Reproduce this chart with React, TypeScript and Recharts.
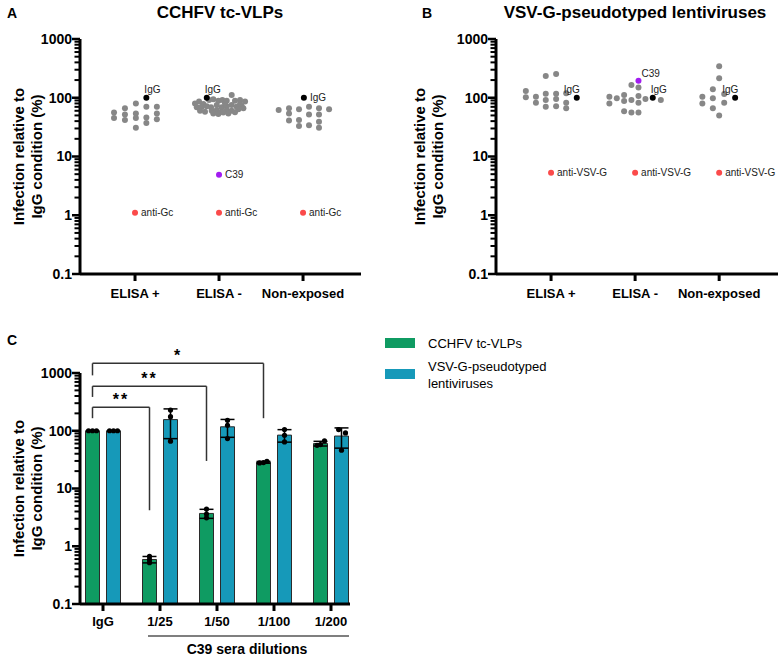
import React from "react";
import {
  ScatterChart,
  Scatter,
  ComposedChart,
  Bar,
  ErrorBar,
  XAxis,
  YAxis,
  ReferenceLine,
  ReferenceDot,
} from "recharts";

const FONT = '"Liberation Sans", Arial, Helvetica, sans-serif';

// ---------- panels A / B ----------
const serumGroups = ["ELISA +", "ELISA -", "Non-exposed"];

// [offset inside the group, infection % of IgG]
const vlpElisaPos = [
  [-0.25, 56], [-0.25, 45],
  [-0.12, 66], [-0.12, 52], [-0.12, 42],
  [0.01, 80], [0.01, 54], [0.01, 45], [0.01, 31],
  [0.135, 70], [0.135, 46], [0.135, 37],
  [0.26, 70], [0.26, 54], [0.26, 43],
];
const vlpElisaNeg = [
  [-0.286, 80], [-0.238, 86], [-0.187, 78], [-0.119, 92], [-0.068, 94], [-0.008, 89],
  [0.04, 92], [0.092, 89], [0.151, 111], [0.19, 89], [0.25, 92], [0.31, 86],
  [-0.265, 69], [-0.206, 70], [-0.146, 72], [-0.095, 69], [-0.027, 75], [0.032, 69],
  [0.092, 72], [0.151, 75], [0.21, 70], [0.27, 72],
  [-0.226, 60], [-0.167, 58], [-0.087, 60], [-0.027, 62], [0.032, 58], [0.092, 62],
  [0.151, 60], [0.23, 64], [0.29, 66],
  [-0.068, 54], [-0.008, 53], [0.051, 56], [0.111, 54], [0.19, 56.5], [0.071, 80], [0.25, 78],
];
const vlpNonExposed = [
  [-0.29, 62],
  [-0.167, 66], [-0.167, 54], [-0.167, 41],
  [-0.048, 64], [-0.048, 42], [-0.048, 33],
  [0.071, 70], [0.071, 52], [0.071, 34],
  [0.19, 66], [0.19, 52], [0.19, 39], [0.19, 31],
  [0.31, 64],
];
// [group, offset, value]
const vlpIgG = [[0, 0.135, 100], [1, -0.146, 100], [2, 0.01, 100]];
const vlpAntiGc = [[0, 0, 1.1], [1, 0, 1.1], [2, 0, 1.1]];
const vlpC39 = [[1, 0, 4.9]];

const lentiElisaPos = [
  [-0.3, 130], [-0.3, 102],
  [-0.18, 104], [-0.18, 82],
  [-0.063, 234], [-0.063, 117], [-0.063, 92], [-0.063, 70],
  [0.06, 254], [0.06, 117], [0.06, 95], [0.06, 72],
  [0.18, 119], [0.18, 82], [0.18, 66],
];
const lentiElisaNeg = [
  [-0.306, 104], [-0.306, 80],
  [-0.218, 98],
  [-0.131, 111], [-0.131, 88], [-0.131, 59],
  [-0.044, 165], [-0.044, 92], [-0.044, 56],
  [0.04, 150], [0.04, 107], [0.04, 82], [0.04, 56],
  [0.123, 95],
  [0.306, 92],
];
const lentiNonExposed = [
  [-0.2, 104], [-0.2, 80],
  [-0.075, 140], [-0.075, 98], [-0.075, 66],
  [0, 345], [0, 215], [0, 50],
  [0.06, 116], [0.06, 82],
];
const lentiIgG = [[0, 0.306, 100], [1, 0.21, 100], [2, 0.19, 100]];
const lentiAntiVsv = [[0, 0, 5.3], [1, 0, 5.3], [2, 0, 5.3]];
const lentiC39 = [[1, 0.04, 195]];

// ---------- panel C ----------
const dilutions = ["IgG", "1/25", "1/50", "1/100", "1/200"];
const seriesNames = ["CCHFV tc-VLPs", "VSV-G-pseudotyped lentiviruses"];
const vlpMean = [100, 0.59, 3.7, 28.4, 60];
const vlpSd = [0, 0.075, 0.66, 1, 5.6];
const lentiMean = [100, 156, 117, 84, 81];
const lentiSd = [0, 83, 40, 20.5, 31];
const vlpReps = [[100, 100, 100], [0.67, 0.59, 0.52], [4.4, 3.6, 3.1], [27.7, 28.1, 29.6], [56, 57.7, 66.6]];
const lentiReps = [[100, 100, 100], [228, 175, 66], [152, 124.5, 73.3], [105, 83.6, 64], [105, 91.6, 46]];
const vlpRepJitter = [[-0.07, 0, 0.07], [0, 0, 0], [0, 0, 0], [-0.07, 0, 0.06], [-0.06, 0, 0.07]];
const lentiRepJitter = [[-0.07, 0, 0.07], [0, 0, 0], [0, 0, 0], [0, 0, 0], [-0.05, 0.07, 0]];
// significance brackets: IgG vs dilution index
const sigTarget = [1, 2, 3];
const sigTop = [255, 590, 1470];
const sigLeftEnd = [165, 385, 910];
const sigRightEnd = [4.2, 30, 165];
const sigStars = ["**", "**", "*"];

const majorTicks = [0.1, 1, 10, 100, 1000];
const logTicks = majorTicks
  .slice(0, 4)
  .flatMap((m) => [1, 2, 3, 4, 5, 6, 7, 8, 9].map((k) => k * m))
  .concat([1000]);

const GREY = "#878787";
const RED = "#fb4a4a";
const PURPLE = "#a21cf0";
const GREEN = "#0f9b62";
const BLUE = "#1699b9";
const AXIS = { stroke: "#000", strokeWidth: 3 };

const PLACE: Record<string, { dx: number; dy: number }> = {
  right: { dx: 6, dy: 3.5 },
  above: { dx: -2, dy: -5 },
  aboveLeft: { dx: -13, dy: -5 },
  aboveRight: { dx: 3, dy: -4 },
};

function LogTick(props: any) {
  const { x, y, payload } = props;
  const v = payload.value;
  const lg = Math.log10(v);
  const major = Math.abs(lg - Math.round(lg)) < 1e-6;
  return (
    <g>
      <line x1={x - (major ? 8 : 5.5)} x2={x} y1={y} y2={y} stroke="#000" strokeWidth={major ? 2.5 : 2} />
      {major && (
        <text x={x - 8} y={y} dy="0.35em" textAnchor="end" fontSize={14} fontWeight={700} fill="#000">
          {String(v)}
        </text>
      )}
    </g>
  );
}

const dot = (color: string, r = 3) => (p: any) => <circle cx={p.cx} cy={p.cy} r={r} fill={color} />;

const labeledDot = (color: string) => (p: any) => {
  const pl = PLACE[p.payload.place] || PLACE.right;
  return (
    <g>
      <circle cx={p.cx} cy={p.cy} r={3} fill={color} />
      <text x={p.cx + pl.dx} y={p.cy + pl.dy} fontSize={10} fill="#222">
        {p.payload.text}
      </text>
    </g>
  );
};

function ScatterPanel(props: any) {
  const { grey, igg, iggPlace, control, controlText, c39, c39Place, width, marginLeft, marginRight, xMax } = props;
  const greyData = grey.flatMap((pts: number[][], g: number) => pts.map(([o, v]) => ({ x: g + 1 + o, y: v })));
  const mk = (list: number[][], text: string, places: string[]) =>
    list.map(([g, o, v], i) => ({ x: g + 1 + o, y: v, text, place: places[i] }));
  return (
    <ScatterChart width={width} height={330} margin={{ top: 39, right: marginRight, bottom: 26, left: marginLeft }}>
      <XAxis
        type="number"
        dataKey="x"
        domain={[0.345, xMax]}
        allowDataOverflow
        ticks={[1, 2, 3]}
        interval={0}
        tickFormatter={(v: number) => serumGroups[Math.round(v) - 1]}
        axisLine={AXIS}
        tickLine={AXIS}
        tickSize={7}
        tickMargin={8}
        height={30}
        tick={{ fill: "#000", fontSize: 13, fontWeight: 700 }}
      />
      <YAxis
        type="number"
        dataKey="y"
        scale="log"
        domain={[0.1, 1000]}
        allowDataOverflow
        ticks={logTicks}
        interval={0}
        width={50}
        axisLine={AXIS}
        tickLine={false}
        tickSize={0}
        tickMargin={0}
        tick={(p: any) => <LogTick {...p} />}
      />
      <Scatter data={greyData} shape={dot(GREY)} isAnimationActive={false} />
      <Scatter data={mk(igg, "IgG", iggPlace)} shape={labeledDot("#000")} isAnimationActive={false} />
      <Scatter data={mk(control, controlText, ["right", "right", "right"])} shape={labeledDot(RED)} isAnimationActive={false} />
      <Scatter data={mk(c39, "C39", c39Place)} shape={labeledDot(PURPLE)} isAnimationActive={false} />
    </ScatterChart>
  );
}

const BAR_SIZE = 14;
const BAR_GAP = 7;
const BAND = 57;
const PAD = { left: -5.5, right: -9.5 };

function BarPanel() {
  const table = dilutions.map((name, i) => ({
    name,
    vlp: vlpMean[i],
    vlpSd: vlpSd[i],
    lenti: lentiMean[i],
    lentiSd: lentiSd[i],
  }));
  const off = (BAR_SIZE + BAR_GAP) / 2 / BAND;
  const repData = [
    ...vlpReps.flatMap((r, i) => r.map((v, j) => ({ x: i - off + vlpRepJitter[i][j], y: v }))),
    ...lentiReps.flatMap((r, i) => r.map((v, j) => ({ x: i + off + lentiRepJitter[i][j], y: v }))),
  ];
  const line = { stroke: "#333", strokeWidth: 1.5 };
  return (
    <ComposedChart width={380} height={328} data={table} barGap={BAR_GAP} margin={{ top: 43, right: 30, bottom: 24, left: 30 }}>
      <XAxis
        dataKey="name"
        padding={PAD}
        axisLine={AXIS}
        tickLine={AXIS}
        tickSize={7}
        tickMargin={6}
        height={30}
        interval={0}
        tick={{ fill: "#000", fontSize: 13, fontWeight: 700 }}
      />
      <XAxis xAxisId="num" type="number" dataKey="x" domain={[-0.5, 4.5]} allowDataOverflow hide padding={PAD} />
      <YAxis
        type="number"
        scale="log"
        domain={[0.1, 1000]}
        allowDataOverflow
        ticks={logTicks}
        interval={0}
        width={50}
        axisLine={AXIS}
        tickLine={false}
        tickSize={0}
        tickMargin={0}
        tick={(p: any) => <LogTick {...p} />}
      />
      <Bar dataKey="vlp" name={seriesNames[0]} fill={GREEN} stroke="#2b2b2b" strokeWidth={1} barSize={BAR_SIZE} isAnimationActive={false}>
        <ErrorBar dataKey="vlpSd" width={7} stroke="#000" strokeWidth={1.5} direction="y" />
      </Bar>
      <Bar dataKey="lenti" name={seriesNames[1]} fill={BLUE} stroke="#2b2b2b" strokeWidth={1} barSize={BAR_SIZE} isAnimationActive={false}>
        <ErrorBar dataKey="lentiSd" width={7} stroke="#000" strokeWidth={1.5} direction="y" />
      </Bar>
      <Scatter xAxisId="num" dataKey="y" data={repData} shape={dot("#000", 2.6)} isAnimationActive={false} />
      {sigTarget.flatMap((t, k) => {
        const lx = -off;
        const rx = t - off;
        return [
          <ReferenceLine key={`a${k}`} xAxisId="num" ifOverflow="visible" {...line}
            segment={[{ x: lx, y: sigLeftEnd[k] }, { x: lx, y: sigTop[k] }]} />,
          <ReferenceLine key={`b${k}`} xAxisId="num" ifOverflow="visible" {...line}
            segment={[{ x: lx, y: sigTop[k] }, { x: rx, y: sigTop[k] }]} />,
          <ReferenceLine key={`c${k}`} xAxisId="num" ifOverflow="visible" {...line}
            segment={[{ x: rx, y: sigTop[k] }, { x: rx, y: sigRightEnd[k] }]} />,
          <ReferenceDot key={`d${k}`} xAxisId="num" ifOverflow="visible" x={(lx + rx) / 2} y={sigTop[k]} r={0}
            fill="none" stroke="none"
            label={{ value: sigStars[k], position: "top", offset: 2, fontSize: 16, fontWeight: 700, fill: "#000", letterSpacing: 2 }} />,
        ];
      })}
    </ComposedChart>
  );
}

function YTitle({ x, cy }: { x: number; cy: number }) {
  return (
    <text transform={`translate(${x},${cy}) rotate(-90)`} textAnchor="middle" fontSize={15} fontWeight={700} fill="#000">
      <tspan x={0} y={0}>Infection relative to</tspan>
      <tspan x={0} y={18}>IgG condition (%)</tspan>
    </text>
  );
}

export default function App() {
  return (
    <div style={{ position: "absolute", left: 0, top: 0, width: 779, height: 658, background: "#fff", fontFamily: FONT }}>
      <div style={{ position: "absolute", left: 0, top: 0 }}>
        <ScatterPanel
          grey={[vlpElisaPos, vlpElisaNeg, vlpNonExposed]}
          igg={vlpIgG}
          iggPlace={["above", "above", "right"]}
          control={vlpAntiGc}
          controlText="anti-Gc"
          c39={vlpC39}
          c39Place={["right"]}
          width={390}
          marginLeft={30}
          marginRight={29}
          xMax={3.69}
        />
      </div>
      <div style={{ position: "absolute", left: 390, top: 0 }}>
        <ScatterPanel
          grey={[lentiElisaPos, lentiElisaNeg, lentiNonExposed]}
          igg={lentiIgG}
          iggPlace={["aboveLeft", "above", "aboveLeft"]}
          control={lentiAntiVsv}
          controlText="anti-VSV-G"
          c39={lentiC39}
          c39Place={["aboveRight"]}
          width={389}
          marginLeft={56}
          marginRight={1}
          xMax={3.7}
        />
      </div>
      <div style={{ position: "absolute", left: 0, top: 330 }}>
        <BarPanel />
      </div>
      <svg width={779} height={658} style={{ position: "absolute", left: 0, top: 0, pointerEvents: "none" }}>
        <text x={7} y={18} fontSize={14} fontWeight={700}>A</text>
        <text x={422} y={18} fontSize={14} fontWeight={700}>B</text>
        <text x={7} y={345} fontSize={14} fontWeight={700}>C</text>
        <text x={220} y={17.5} fontSize={17} fontWeight={700} textAnchor="middle">CCHFV tc-VLPs</text>
        <text x={635} y={17.5} fontSize={17} fontWeight={700} textAnchor="middle">VSV-G-pseudotyped lentiviruses</text>
        <YTitle x={24} cy={156.5} />
        <YTitle x={425} cy={156.5} />
        <YTitle x={24} cy={488.5} />
        <line x1={148} x2={349} y1={636} y2={636} stroke="#000" strokeWidth={1.2} />
        <text x={247} y={654} fontSize={14} fontWeight={700} textAnchor="middle">C39 sera dilutions</text>
        <rect x={385} y={338} width={30} height={10} fill={GREEN} />
        <text x={428} y={348} fontSize={13}>{seriesNames[0]}</text>
        <rect x={385} y={369} width={30} height={10} fill={BLUE} />
        <text x={428} y={371} fontSize={13}>VSV-G-pseudotyped</text>
        <text x={428} y={388} fontSize={13}>lentiviruses</text>
      </svg>
    </div>
  );
}
